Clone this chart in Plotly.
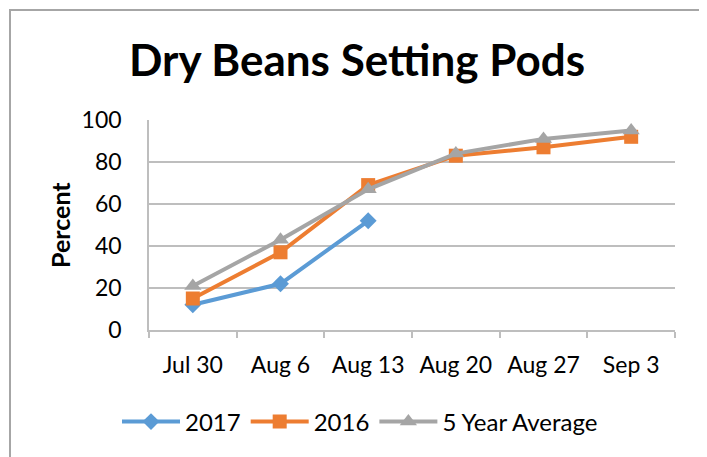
import plotly.graph_objects as go

categories = ["Jul 30", "Aug 6", "Aug 13", "Aug 20", "Aug 27", "Sep 3"]
y2017 = [12, 22, 52, None, None, None]
y2016 = [15, 37, 69, 83, 87, 92]
y5yr = [21, 43, 67, 84, 91, 95]
yticks = [0, 20, 40, 60, 80, 100]

# page body has an 8px margin; figure is sized/offset to compensate
OFF = 8
W, H = 707 - OFF, 457 - OFF
L, R, T, B = 149 - OFF, 675 - OFF, 120 - OFF, 330 - OFF  # plot area in figure pixels


def px(xp):
    return (xp - OFF - L) / (R - L)


def py(yp):
    return (B - (yp - OFF)) / (B - T)


FONT = "Lato, Open Sans, sans-serif"

fig = go.Figure()
fig.add_trace(go.Scatter(x=categories, y=y2017, name="2017", mode="lines+markers",
                         line=dict(color="#5B9BD5", width=4),
                         marker=dict(symbol="diamond", size=13, color="#5B9BD5")))
fig.add_trace(go.Scatter(x=categories, y=y2016, name="2016", mode="lines+markers",
                         line=dict(color="#ED7D31", width=4),
                         marker=dict(symbol="square", size=14, color="#ED7D31")))
fig.add_trace(go.Scatter(x=categories, y=y5yr, name="5 Year Average", mode="lines+markers",
                         line=dict(color="#A5A5A5", width=4),
                         marker=dict(symbol="triangle-up", size=15, color="#A5A5A5")))

fig.update_layout(
    width=W, height=H,
    margin=dict(l=L, r=W - R, t=T, b=H - B, autoexpand=False),
    paper_bgcolor="white", plot_bgcolor="white",
    font=dict(family=FONT, size=22, color="black"),
    title=dict(text="<b>Dry Beans Setting Pods</b>", font=dict(family=FONT, size=44, color="black"),
               x=(357 - OFF) / W, xref="container", xanchor="center",
               y=1 - (61 - OFF) / H, yref="container", yanchor="middle"),
    showlegend=True,
    legend=dict(orientation="h", x=(360 - OFF) / W, xref="container", xanchor="center",
                y=1 - (422 - OFF) / H, yref="container", yanchor="middle",
                font=dict(family=FONT, size=24, color="black"),
                itemwidth=58, tracegroupgap=0, bgcolor="rgba(0,0,0,0)"),
    xaxis=dict(type="category", range=[-0.5, 5.5], showgrid=False,
               showline=True, linecolor="#BEBEBE", linewidth=1.5,
               ticks="outside", tickson="boundaries", ticklen=6, tickcolor="#BEBEBE",
               tickwidth=1.5, ticklabelstandoff=14,
               tickfont=dict(family=FONT, size=23, color="black"), fixedrange=True),
    yaxis=dict(range=[0, 100], tickvals=yticks, ticktext=[str(v) for v in yticks],
               showgrid=True, gridcolor="#BEBEBE", gridwidth=1.5,
               showline=True, linecolor="#BEBEBE", linewidth=1.5,
               zeroline=False, ticks="", ticklabelstandoff=21,
               tickfont=dict(family=FONT, size=23, color="black"), fixedrange=True),
    annotations=[dict(text="<b>Percent</b>", textangle=-90, xref="paper", yref="paper",
                      x=px(60), y=py(225), xanchor="center", yanchor="middle",
                      showarrow=False, font=dict(family=FONT, size=25, color="black"))],
    shapes=[dict(type="rect", xref="paper", yref="paper",
                 x0=px(10), x1=px(704), y0=py(475), y1=py(10),
                 line=dict(color="#A6A6A6", width=2), fillcolor="rgba(0,0,0,0)", layer="below")],
)

fig.write_html("out.html")
